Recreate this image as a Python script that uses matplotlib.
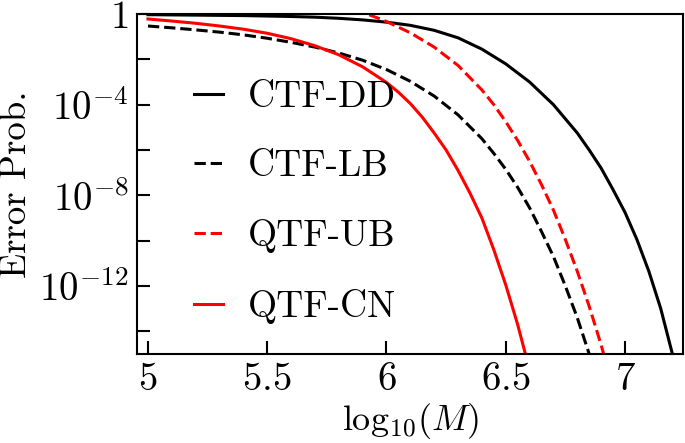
import numpy as np
import matplotlib
matplotlib.use("Agg")
import matplotlib.pyplot as plt

plt.rcParams["font.family"] = "serif"
plt.rcParams["font.serif"] = ["cmr10"]
plt.rcParams["mathtext.fontset"] = "cm"
plt.rcParams["axes.unicode_minus"] = False

# log10(M) and log10(error prob.)
x_dd = [5.0, 5.2, 5.4, 5.6, 5.7, 5.8, 5.9, 6.0, 6.1, 6.2, 6.3, 6.4, 6.5, 6.6, 6.7, 6.8,
        6.85, 6.9, 6.95, 7.0, 7.05, 7.1, 7.15, 7.2, 7.25]
ly_dd = [-0.03, -0.05, -0.07, -0.11, -0.14, -0.19, -0.26, -0.36, -0.5, -0.72, -1.05, -1.55,
         -2.2, -3.0, -4.0, -5.25, -6.0, -6.8, -7.75, -8.75, -9.95, -11.35, -13.0, -15.05, -17.4]

x_lb = [5.0, 5.1, 5.2, 5.3, 5.4, 5.5, 5.6, 5.7, 5.8, 5.9, 6.0, 6.1, 6.2, 6.3, 6.4, 6.45,
        6.5, 6.55, 6.6, 6.65, 6.7, 6.75, 6.8, 6.85, 6.9]
ly_lb = [-0.53, -0.61, -0.7, -0.8, -0.92, -1.07, -1.25, -1.46, -1.72, -2.04, -2.45, -2.97,
         -3.62, -4.45, -5.5, -6.15, -6.85, -7.65, -8.55, -9.6, -10.7, -12.0, -13.4, -15.0, -16.7]

x_ub = [5.8, 5.9, 6.0, 6.1, 6.2, 6.3, 6.4, 6.45, 6.5, 6.55, 6.6, 6.65, 6.7, 6.75, 6.8,
        6.85, 6.9, 6.95]
ly_ub = [0.45, 0.08, -0.33, -0.83, -1.46, -2.27, -3.35, -4.0, -4.75, -5.58, -6.5, -7.53,
         -8.65, -9.95, -11.35, -12.9, -14.6, -16.5]

x_cn = [5.0, 5.1, 5.2, 5.3, 5.4, 5.5, 5.6, 5.7, 5.8, 5.9, 6.0, 6.05, 6.1, 6.15, 6.2, 6.25,
        6.3, 6.35, 6.4, 6.45, 6.5, 6.55, 6.6]
ly_cn = [-0.22, -0.31, -0.41, -0.53, -0.67, -0.85, -1.09, -1.4, -1.8, -2.33, -3.02, -3.45,
         -3.95, -4.55, -5.25, -6.0, -6.9, -7.9, -9.0, -10.4, -11.95, -13.7, -15.7]

labels = ["CTF-DD", "CTF-LB", "QTF-UB", "QTF-CN"]

fig = plt.figure(figsize=(6.85, 4.43), dpi=100)
ax = fig.add_axes([0.2, 0.2009, 0.797, 0.7675])

lw = 2.2
ax.plot(x_dd, 10.0 ** np.array(ly_dd), color="black", ls="-", lw=lw, label=labels[0])
ax.plot(x_lb, 10.0 ** np.array(ly_lb), color="black", ls="--", lw=lw, label=labels[1])
ax.plot(x_ub, 10.0 ** np.array(ly_ub), color="red", ls="--", lw=lw, label=labels[2])
ax.plot(x_cn, 10.0 ** np.array(ly_cn), color="red", ls="-", lw=lw, label=labels[3])

ax.set_yscale("log")
ax.set_xlim(4.954, 7.243)
ax.set_ylim(1e-15, 1)

yt = [10.0 ** -k for k in range(0, 15, 2)]
ax.set_yticks(yt)
ax.set_yticklabels(["$1$" if k == 0 else (r"$10^{-%d}$" % k if k % 4 == 0 else "")
                    for k in range(0, 15, 2)])
ax.yaxis.set_minor_locator(matplotlib.ticker.NullLocator())
xt = [5, 5.5, 6, 6.5, 7]
ax.set_xticks(xt)
ax.set_xticklabels(["$%g$" % v for v in xt])

ax.tick_params(direction="in", length=9.5, width=1.5, labelsize=28, pad=6)
for s in ax.spines.values():
    s.set_linewidth(1.5)

ax.set_ylabel("Error Prob.", fontsize=26.5, labelpad=4)
ax.set_xlabel(r"$\mathrm{log}_{10}(M)$", fontsize=26, labelpad=2)

ax.legend(loc="upper left", bbox_to_anchor=(0.104, 0.803), frameon=False, fontsize=27,
          borderpad=0, borderaxespad=0, handlelength=0.78, handletextpad=0.66,
          labelspacing=0.96)

fig.savefig("out.png", dpi=100)
